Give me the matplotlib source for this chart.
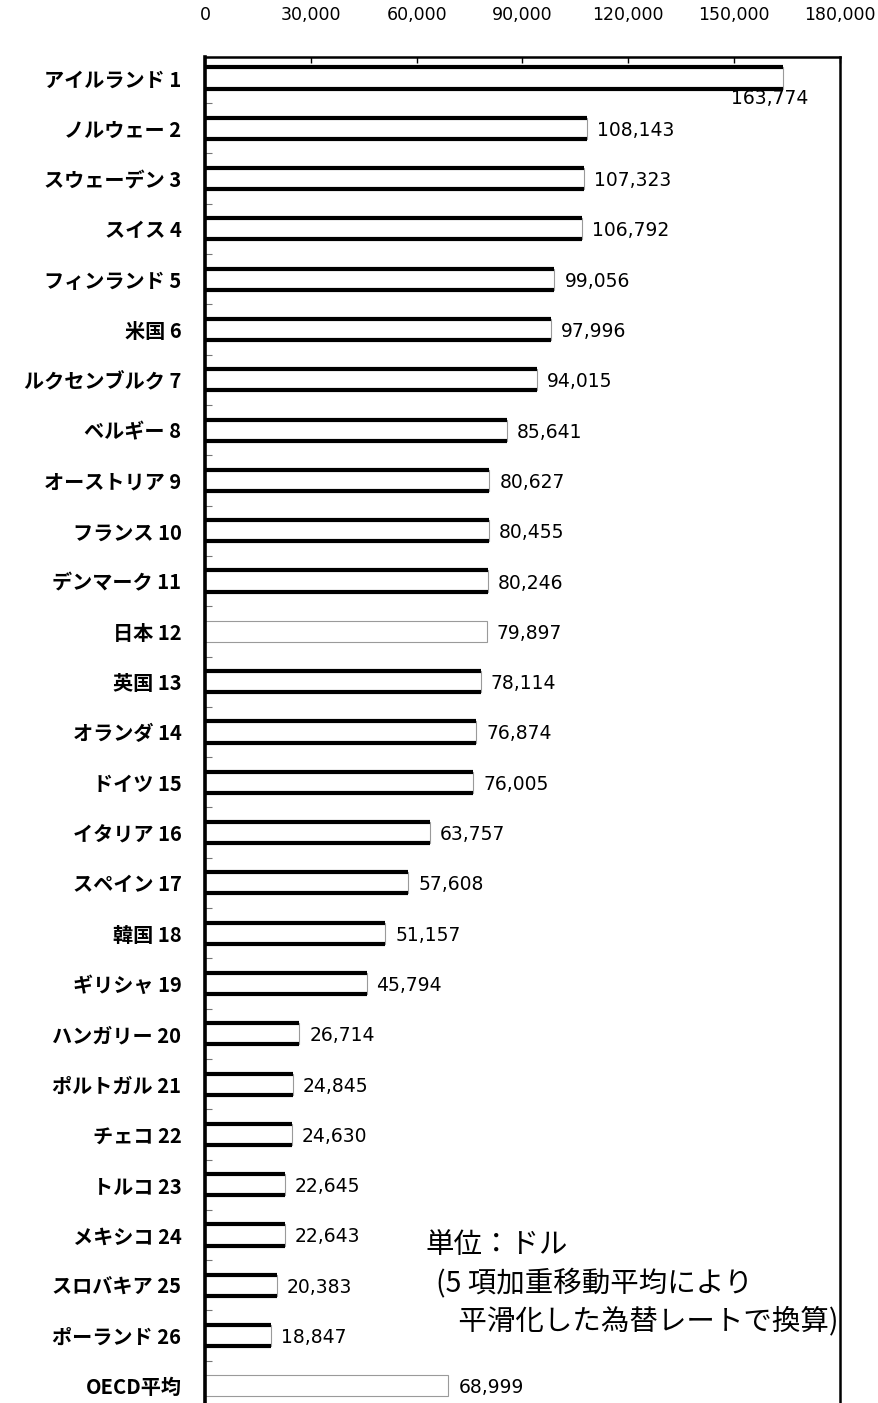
import matplotlib
matplotlib.use("Agg")
import matplotlib.pyplot as plt
import numpy as np

plt.rcParams['font.family'] = ['Noto Sans CJK JP', 'DejaVu Sans']

# 国名（順位）と一人当たり額
countries = ['アイルランド 1', 'ノルウェー 2', 'スウェーデン 3', 'スイス 4',
             'フィンランド 5', '米国 6', 'ルクセンブルク 7', 'ベルギー 8',
             'オーストリア 9', 'フランス 10', 'デンマーク 11', '日本 12',
             '英国 13', 'オランダ 14', 'ドイツ 15', 'イタリア 16',
             'スペイン 17', '韓国 18', 'ギリシャ 19', 'ハンガリー 20',
             'ポルトガル 21', 'チェコ 22', 'トルコ 23', 'メキシコ 24',
             'スロバキア 25', 'ポーランド 26', 'OECD平均']
values = [163774, 108143, 107323, 106792, 99056, 97996, 94015, 85641,
          80627, 80455, 80246, 79897, 78114, 76874, 76005, 63757,
          57608, 51157, 45794, 26714, 24845, 24630, 22645, 22643,
          20383, 18847, 68999]
light_rows = ['日本 12', 'OECD平均']   # 細線だけで描く行
xticks = [0, 30000, 60000, 90000, 120000, 150000, 180000]
note_lines = ['単位：ドル', '(5 項加重移動平均により', ' 平滑化した為替レートで換算)']

W, H = 879, 1403
fig = plt.figure(figsize=(W / 100, H / 100), dpi=100)
ax = fig.add_axes([205 / W, 0, 635 / W, (H - 57) / H])

y = np.arange(len(countries))
bar_h = 0.42

ax.barh(y, values, height=bar_h, color='white', edgecolor='#9a9a9a',
        linewidth=0.8, zorder=2)

# 太い上下の線
for yi, (name, v) in enumerate(zip(countries, values)):
    if name in light_rows:
        continue
    ax.hlines([yi - bar_h / 2, yi + bar_h / 2], 0, v, colors='black',
              linewidth=3.0, zorder=3)

# 数値ラベル
for yi, v in enumerate(values):
    txt = f'{v:,}'
    if yi == 0:
        ax.annotate(txt, xy=(v, yi), xytext=(-13, -20),
                    textcoords='offset pixels', ha='center', va='center',
                    fontsize=13.5, family='DejaVu Sans')
    else:
        ax.annotate(txt, xy=(v, yi), xytext=(10, -2),
                    textcoords='offset pixels', ha='left', va='center',
                    fontsize=13.5, family='DejaVu Sans')

ax.set_xlim(0, 180000)
ax.set_ylim(26.34, -0.418)

ax.xaxis.tick_top()
ax.set_xticks(xticks)
ax.set_xticklabels([f'{t:,}' for t in xticks], family='DejaVu Sans',
                   fontsize=12.5)
ax.tick_params(axis='x', direction='in', length=4, width=1, pad=24)

ax.set_yticks(y)
ax.set_yticklabels(countries, fontsize=14.5, fontweight='bold')
ax.set_yticks(y[:-1] + 0.5, minor=True)
ax.tick_params(axis='y', which='major', length=0, pad=17)
ax.tick_params(axis='y', which='minor', direction='in', length=5,
               width=0.8, color='#777777')

for side, lw in [('left', 2.6), ('top', 1.8), ('right', 1.8)]:
    ax.spines[side].set_linewidth(lw)
ax.spines['bottom'].set_visible(False)

# 注記
note_pos = [(425, 1245), (436, 1283), (452, 1321)]
for (px, py), line in zip(note_pos, note_lines):
    fig.text(px / W, 1 - py / H, line, fontsize=20.5, ha='left', va='center')

fig.savefig('out.png', dpi=100)
